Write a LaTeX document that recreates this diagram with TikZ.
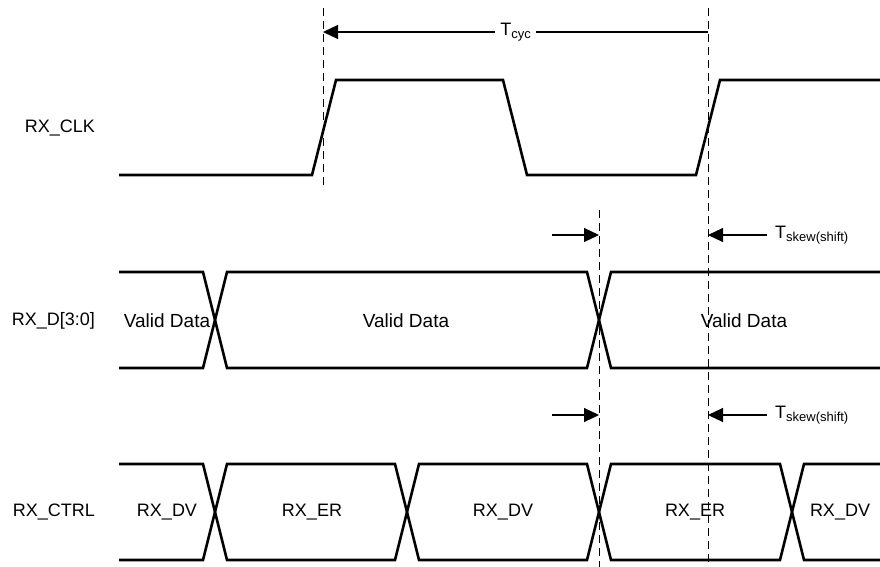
\documentclass[tikz,border=0pt]{standalone}
\usepackage{fontspec}
\setmainfont{Liberation Sans}
\usetikzlibrary{arrows.meta}
\newcommand\tsub[1]{T\raisebox{-3pt}{\fontsize{13}{13}\selectfont #1}}
\begin{document}
\begin{tikzpicture}[x=1pt,y=-1pt,
	sig/.style={line width=2.6pt,line join=miter},
	guide/.style={line width=1pt,dash pattern=on 8pt off 5pt},
	dim/.style={line width=1.1pt,-{Triangle[length=15pt,width=14pt]}},
	lbl/.style={font=\fontsize{18}{20}\selectfont,inner sep=1pt}]
\useasboundingbox (0,0) rectangle (880,567);
% signal names
\node[lbl,anchor=east] (nclk) at (96,128) {RX\_CLK};
\node[lbl,anchor=east] (ndat) at (96,321) {RX\_D[3:0]};
\node[lbl,anchor=east] (nctl) at (96,512) {RX\_CTRL};
% clock
\draw[sig] (119,175) -- (312,175) -- (336,80) -- (503,80) -- (527,175) -- (696,175) -- (720,80) -- (880,80);
% data bus
\draw[sig] (119,272) -- (203,272) -- (227,368) -- (587,368) -- (611,272) -- (880,272);
\draw[sig] (119,368) -- (203,368) -- (227,272) -- (587,272) -- (611,368) -- (880,368);
\foreach \x/\n in {167/d1,406/d2,744/d3}
	\node[lbl,font=\fontsize{19}{21}\selectfont] (\n) at (\x,321) {Valid Data};
% control bus
\draw[sig] (119,464) -- (203,464) -- (227,560) -- (395,560) -- (419,464) -- (587,464) -- (611,560) -- (780,560) -- (804,464) -- (880,464);
\draw[sig] (119,560) -- (203,560) -- (227,464) -- (395,464) -- (419,560) -- (587,560) -- (611,464) -- (780,464) -- (804,560) -- (880,560);
\foreach \x/\t/\n in {167/DV/c1,312/ER/c2,503/DV/c3,695/ER/c4,840/DV/c5}
	\node[lbl] (\n) at (\x,512) {RX\_\t};
% edges
\draw[guide] (323,8) -- (323,190);
\draw[guide] (708,8) -- (708,562);
\draw[guide] (599,210) -- (599,567);
% cycle time
\coordinate (cycA) at (323,32);
\coordinate (cycB) at (708,32);
\draw[dim,{Triangle[length=15pt,width=14pt]}-] (cycA) -- (cycB) node[lbl,midway,fill=white,inner xsep=5pt] (tcyc) {\tsub{cyc}};
% skew
\foreach \y/\n in {235/a,415/b}{
	\coordinate (in\n) at (552,\y);
	\coordinate (ed\n) at (599,\y);
	\coordinate (out\n) at (767,\y);
	\coordinate (ck\n) at (708,\y);
	\draw[dim] (in\n) -- (ed\n);
	\draw[dim] (out\n) -- (ck\n);
	\node[lbl,anchor=west] (sk\n) at (774,\y) {\tsub{skew(shift)}};
}
\end{tikzpicture}
\end{document}
